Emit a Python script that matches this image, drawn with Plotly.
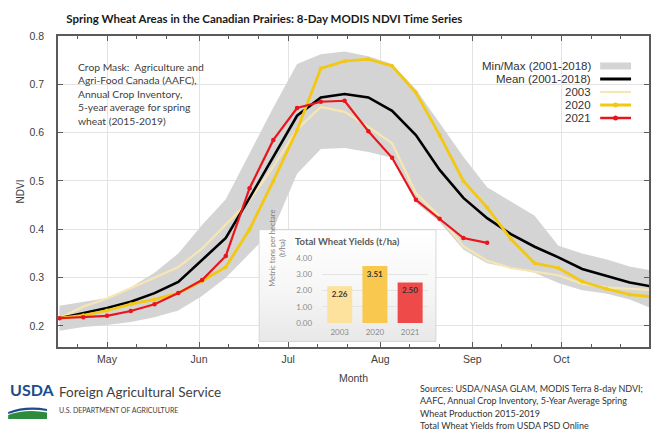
import plotly.graph_objects as go

# ---------------------------------------------------------------- canvas
W, H = 651, 432
ML, MR, MT, MB = 58, 0, 36, 85
PW = W - ML - MR
PH = H - MT - MB


def xp(px):
    """pixel column -> paper x"""
    return (px - ML) / PW


def yp(py):
    """pixel row -> paper y"""
    return (H - MB - py) / PH


# ---------------------------------------------------------------- data
# 8-day MODIS composite start dates
dates = [
    "2021-04-15", "2021-04-23", "2021-05-01", "2021-05-09", "2021-05-17",
    "2021-05-25", "2021-06-02", "2021-06-10", "2021-06-18", "2021-06-26",
    "2021-07-04", "2021-07-12", "2021-07-20", "2021-07-28", "2021-08-05",
    "2021-08-13", "2021-08-21", "2021-08-29", "2021-09-06", "2021-09-14",
    "2021-09-22", "2021-09-30", "2021-10-08", "2021-10-16", "2021-10-24",
    "2021-11-01",
]

ndvi_max = [0.242, 0.250, 0.258, 0.280, 0.310, 0.350, 0.409, 0.462, 0.558, 0.652,
            0.742, 0.762, 0.768, 0.758, 0.742, 0.690, 0.620, 0.550, 0.487, 0.458,
            0.428, 0.366, 0.350, 0.338, 0.323, 0.314]
ndvi_min = [0.190, 0.198, 0.202, 0.208, 0.218, 0.232, 0.262, 0.300, 0.350, 0.400,
            0.515, 0.566, 0.568, 0.560, 0.548, 0.455, 0.415, 0.358, 0.330, 0.320,
            0.310, 0.289, 0.274, 0.267, 0.255, 0.235]
ndvi_mean = [0.216, 0.227, 0.237, 0.250, 0.268, 0.291, 0.337, 0.382, 0.465, 0.550,
             0.635, 0.673, 0.680, 0.673, 0.645, 0.595, 0.523, 0.465, 0.423, 0.390,
             0.364, 0.342, 0.318, 0.304, 0.290, 0.281]
ndvi_2003 = [0.216, 0.240, 0.257, 0.278, 0.300, 0.322, 0.360, 0.410, 0.460, 0.530,
             0.607, 0.653, 0.643, 0.612, 0.578, 0.475, 0.426, 0.365, 0.335, 0.320,
             0.312, 0.305, 0.287, 0.280, 0.277, 0.274]
ndvi_2020 = [0.216, 0.222, 0.232, 0.245, 0.255, 0.268, 0.293, 0.322, 0.400, 0.500,
             0.605, 0.733, 0.748, 0.752, 0.738, 0.683, 0.595, 0.500, 0.445, 0.380,
             0.330, 0.320, 0.292, 0.277, 0.265, 0.260]
ndvi_2021 = [0.216, 0.218, 0.221, 0.231, 0.245, 0.268, 0.295, 0.345, 0.485, 0.585,
             0.651, 0.664, 0.666, 0.603, 0.548, 0.461, 0.422, 0.382, 0.372]

month_ticks = ["2021-05-01", "2021-06-01", "2021-07-01", "2021-08-01",
               "2021-09-01", "2021-10-01"]
month_labels = ["May", "Jun", "Jul", "Aug", "Sep", "Oct"]
minor_ticks = ["2021-04-21", "2021-05-11", "2021-05-21", "2021-06-11", "2021-06-21",
               "2021-07-11", "2021-07-21", "2021-08-11", "2021-08-21", "2021-09-11",
               "2021-09-21", "2021-10-11", "2021-10-21"]

yield_years = ["2003", "2020", "2021"]
yield_values = [2.26, 3.51, 2.50]

legend_labels = ["Min/Max (2001-2018)", "Mean (2001-2018)", "2003", "2020", "2021"]

source_lines = [
    "Sources: USDA/NASA GLAM, MODIS Terra 8-day NDVI;",
    "AAFC, Annual Crop Inventory, 5-Year Average Spring",
    "Wheat Production 2015-2019",
    "Total Wheat Yields from USDA PSD Online",
]

# ---------------------------------------------------------------- styles
C_BAND = "#D4D4D4"
C_MEAN = "#000000"
C_2003 = "#F7E6B2"
C_2020 = "#F2C812"
C_2021 = "#E8161C"
TICK_FONT = "Liberation Sans"
TEXT_FONT = "Lato"

fig = go.Figure()

# min/max envelope
fig.add_trace(go.Scatter(x=dates, y=ndvi_min, mode="lines", line=dict(width=0),
                         hoverinfo="skip", showlegend=False))
fig.add_trace(go.Scatter(x=dates, y=ndvi_max, mode="lines", line=dict(width=0),
                         fill="tonexty", fillcolor=C_BAND, name=legend_labels[0],
                         showlegend=False))
fig.add_trace(go.Scatter(x=dates, y=ndvi_2003, mode="lines",
                         line=dict(color=C_2003, width=2.2), name="2003",
                         showlegend=False))
fig.add_trace(go.Scatter(x=dates, y=ndvi_mean, mode="lines",
                         line=dict(color=C_MEAN, width=2.6), name=legend_labels[1],
                         showlegend=False))
fig.add_trace(go.Scatter(x=dates, y=ndvi_2020, mode="lines+markers",
                         line=dict(color=C_2020, width=2.8),
                         marker=dict(size=4, color=C_2020), name="2020",
                         showlegend=False))
fig.add_trace(go.Scatter(x=dates[:len(ndvi_2021)], y=ndvi_2021, mode="lines+markers",
                         line=dict(color=C_2021, width=2.2),
                         marker=dict(size=4.5, color=C_2021), name="2021",
                         showlegend=False))

# inset panel background (its own subplot so it sits over the curves)
fig.add_trace(go.Scatter(x=[0, 1, 1, 0, 0], y=[0, 0, 1, 1, 0], mode="lines",
                         fill="toself",
                         fillgradient=dict(type="vertical",
                                           colorscale=[[0, "#E8E8E8"], [0.45, "#F6F6F6"],
                                                       [1, "#FFFFFF"]]),
                         line=dict(color="#D2D2D2", width=1),
                         hoverinfo="skip", showlegend=False,
                         xaxis="x2", yaxis="y2"))

# inset yield bars
fig.add_trace(go.Bar(x=yield_years, y=yield_values, width=0.71,
                     marker=dict(color=["#FCE29C", "#F8C94E", "#EF4A4A"], line=dict(width=0)),
                     texttemplate="%{y:.2f}", textposition="inside",
                     insidetextanchor="end",
                     textfont=dict(family=TEXT_FONT, size=8, color="#333333", weight="bold"),
                     hoverinfo="skip", showlegend=False,
                     xaxis="x3", yaxis="y3"))

# ---------------------------------------------------------------- legend (text left of key)
legend_rows = [66, 79, 92, 105, 118]
annotations = []
shapes = []
for lab, ry in zip(legend_labels, legend_rows):
    annotations.append(dict(x=xp(595), y=yp(ry), xref="paper", yref="paper",
                            text=lab, showarrow=False, xanchor="right", yanchor="middle",
                            font=dict(family=TICK_FONT, size=11.5, color="#333333")))
kx0, kx1 = xp(602), xp(633)
shapes.append(dict(type="rect", xref="paper", yref="paper", x0=kx0, x1=kx1,
                   y0=yp(legend_rows[0] + 3.5), y1=yp(legend_rows[0] - 3.5),
                   fillcolor=C_BAND, line=dict(width=0), layer="above"))
for ry, col, lw in [(legend_rows[1], C_MEAN, 3), (legend_rows[2], C_2003, 2.2),
                    (legend_rows[3], C_2020, 3), (legend_rows[4], C_2021, 2.5)]:
    shapes.append(dict(type="line", xref="paper", yref="paper", x0=kx0, x1=kx1,
                       y0=yp(ry), y1=yp(ry), line=dict(color=col, width=lw),
                       layer="above"))
for ry, col in [(legend_rows[3], C_2020), (legend_rows[4], C_2021)]:
    shapes.append(dict(type="circle", xref="paper", yref="paper",
                       x0=xp(615), x1=xp(620), y0=yp(ry + 2.5), y1=yp(ry - 2.5),
                       fillcolor=col, line=dict(width=0), layer="above"))

# ---------------------------------------------------------------- text blocks
annotations += [
    dict(x=xp(76), y=yp(59), xref="paper", yref="paper", xanchor="left", yanchor="top",
         align="left", showarrow=False,
         text=("Crop Mask:  Agriculture and<br>Agri-Food Canada (AAFC),<br>"
               "Annual Crop Inventory,<br>5-year average for spring<br>wheat (2015-2019)"),
         font=dict(family=TEXT_FONT, size=10.3, color="#404040")),
    dict(x=xp(348), y=yp(241), xref="paper", yref="paper", showarrow=False,
         text="<b>Total Wheat Yields (t/ha)</b>",
         font=dict(family=TEXT_FONT, size=9.5, color="#595959")),
    dict(x=xp(278), y=yp(289), xref="paper", yref="paper", showarrow=False,
         text="Metric tons per hectare<br>(t/ha)", textangle=-90,
         font=dict(family=TEXT_FONT, size=7.5, color="#808080")),
    dict(x=xp(8), y=yp(401), xref="paper", yref="paper", xanchor="left", showarrow=False,
         text="<b>USDA</b>", font=dict(family=TEXT_FONT, size=16, color="#1B4C8C")),
    dict(x=xp(57), y=yp(402), xref="paper", yref="paper", xanchor="left", showarrow=False,
         text="Foreign Agricultural Service",
         font=dict(family=TEXT_FONT, size=13.5, color="#404040")),
    dict(x=xp(57), y=yp(416), xref="paper", yref="paper", xanchor="left", showarrow=False,
         text="U.S. DEPARTMENT OF AGRICULTURE",
         font=dict(family=TEXT_FONT, size=7, color="#404040")),
]
for line, ry in zip(source_lines, [388, 400.5, 413, 425.5]):
    annotations.append(dict(x=xp(419), y=yp(ry), xref="paper", yref="paper",
                            xanchor="left", yanchor="middle", showarrow=False,
                            text=line,
                            font=dict(family=TEXT_FONT, size=9, color="#333333")))


def P(x, y):
    return f"{xp(x):.5f},{yp(y):.5f}"


# USDA emblem swoosh
shapes += [
    dict(type="path", xref="paper", yref="paper", layer="above",
         path=f"M {P(8, 412)} Q {P(26, 405)} {P(47, 409)} L {P(47, 411)} Q {P(26, 407.5)} {P(8, 414)} Z",
         fillcolor="#1B4C8C", line=dict(width=0)),
    dict(type="path", xref="paper", yref="paper", layer="above",
         path=f"M {P(8, 415)} Q {P(26, 408.5)} {P(47, 412.5)} L {P(47, 419)} L {P(8, 419)} Z",
         fillcolor="#2E8B3E", line=dict(width=0)),
]

# ---------------------------------------------------------------- layout
axis_line = "#5A5A5A"
fig.update_layout(
    width=W, height=H,
    margin=dict(l=ML, r=MR, t=MT, b=MB),
    paper_bgcolor="white",
    plot_bgcolor="rgba(0,0,0,0)",
    showlegend=False,
    title=dict(text="<b>Spring Wheat Areas in the Canadian Prairies: 8-Day MODIS NDVI Time Series</b>",
               x=xp(265), xanchor="center", xref="paper", y=1 - 19 / H, yanchor="middle",
               font=dict(family=TEXT_FONT, size=11.5, color="#1A1A1A")),
    xaxis=dict(
        type="date", range=["2021-04-14 12:00", "2021-10-30 12:00"],
        tickvals=month_ticks, ticktext=month_labels,
        ticks="inside", ticklen=5, tickcolor=axis_line, tickwidth=1,
        showline=True, linecolor=axis_line, linewidth=1.5, mirror="ticks",
        showgrid=True, gridcolor="#E3E3E3", gridwidth=1, zeroline=False,
        tickfont=dict(family=TICK_FONT, size=10.5, color="#404040"),
        ticklabelstandoff=2,
        minor=dict(tickvals=minor_ticks, ticks="inside", ticklen=3,
                   tickcolor=axis_line, showgrid=False),
        title=dict(text="Month", standoff=10,
                   font=dict(family=TICK_FONT, size=10.5, color="#404040")),
    ),
    yaxis=dict(
        range=[0.1565, 0.8], tickvals=[0.2, 0.3, 0.4, 0.5, 0.6, 0.7, 0.8],
        tickformat=".1f",
        ticks="inside", ticklen=5, tickcolor=axis_line,
        showline=True, linecolor=axis_line, linewidth=1.5, mirror="ticks",
        showgrid=True, gridcolor="#E3E3E3", gridwidth=1, zeroline=False,
        tickfont=dict(family=TICK_FONT, size=10.5, color="#404040"),
        ticklabelstandoff=10,
        title=dict(text="NDVI", standoff=3,
                   font=dict(family=TICK_FONT, size=10, color="#404040")),
    ),
    xaxis2=dict(domain=[xp(259), xp(438)], range=[-0.004, 1.004], visible=False,
                anchor="y2", fixedrange=True),
    yaxis2=dict(domain=[yp(342), yp(229)], range=[-0.006, 1.006], visible=False,
                anchor="x2", fixedrange=True),
    xaxis3=dict(domain=[xp(323), xp(429)], range=[-0.5, 2.5], type="category",
                anchor="y3", showline=False, ticks="", showgrid=False,
                tickfont=dict(family=TEXT_FONT, size=8, color="#8C8C8C"),
                ticklabelstandoff=3),
    yaxis3=dict(domain=[yp(323), yp(258)], range=[0, 4], anchor="x3",
                tickvals=[0, 1, 2, 3, 4], tickformat=".2f", ticks="",
                showgrid=True, gridcolor="#E4E4E4", zeroline=False, showline=False,
                tickfont=dict(family=TEXT_FONT, size=8, color="#8C8C8C"),
                ticklabelstandoff=9),
    annotations=annotations,
    shapes=shapes,
)

fig.write_html("out.html")
